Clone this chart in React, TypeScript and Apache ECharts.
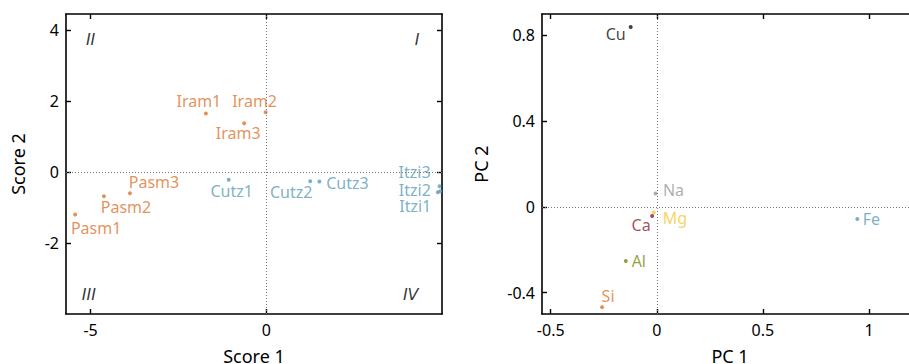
import React, { useEffect, useRef } from "react";
import * as echarts from "echarts";

// ---- Left panel: sample scores ----
const sampleNames = ["Pasm1", "Pasm2", "Pasm3", "Iram1", "Iram2", "Iram3", "Cutz1", "Cutz2", "Cutz3", "Itzi1", "Itzi2", "Itzi3"];
const score1 = [-5.44, -4.62, -3.88, -1.72, -0.02, -0.63, -1.07, 1.25, 1.51, 4.95, 4.88, 4.93];
const score2 = [-1.2, -0.685, -0.6, 1.65, 1.68, 1.37, -0.22, -0.26, -0.27, -0.545, -0.57, -0.4];
const sampleGroup = ["orange", "orange", "orange", "orange", "orange", "orange", "teal", "teal", "teal", "teal", "teal", "teal"];

const quadrantNames = ["II", "I", "III", "IV"];
const quadrantX = [-5.0, 4.29, -5.05, 4.11];
const quadrantY = [3.74, 3.74, -3.45, -3.45];

const leftXTicks = [-5, 0];
const leftYTicks = [-2, 0, 2, 4];

// ---- Right panel: loadings ----
const elementNames = ["Cu", "Na", "Mg", "Ca", "Al", "Si", "Fe"];
const pc1 = [-0.123, -0.006, -0.014, -0.022, -0.146, -0.258, 0.945];
const pc2 = [0.839, 0.062, -0.026, -0.043, -0.253, -0.468, -0.057];

const rightXTicks = [-0.5, 0, 0.5, 1];
const rightYTicks = [-0.4, 0, 0.4, 0.8];

// ---- styles ----
const FONT = "Noto Sans";
const groupColors: Record<string, string> = { orange: "#dc7630", teal: "#5a9db5" };
const elementColors: Record<string, string> = {
  Cu: "#111111",
  Na: "#999999",
  Mg: "#f5c83a",
  Ca: "#8b1f38",
  Al: "#7a8a10",
  Si: "#dc7630",
  Fe: "#5a9db5",
};
const sampleLabelOffset: Record<string, number[]> = {
  Pasm1: [21, 13],
  Pasm2: [22, 11],
  Pasm3: [24, -11],
  Iram1: [-7, -12],
  Iram2: [-11, -11],
  Iram3: [-6, 10],
  Cutz1: [3, 11],
  Cutz2: [-19, 11],
  Cutz3: [28, 1],
  Itzi3: [-25, -14],
  Itzi2: [-23, -2],
  Itzi1: [-25, 15],
};
const elementLabelOffset: Record<string, number[]> = {
  Cu: [-15, 7],
  Na: [18, -4],
  Mg: [21, 6],
  Ca: [-11, 9],
  Al: [13, 0],
  Si: [6, -11],
  Fe: [14, 0],
};

const axisLineStyle = { color: "#000", width: 1.6 };
const tickStyle = { color: "#000", width: 1.4 };

function makeAxes(
  gridIndex: number,
  xr: number[],
  yr: number[],
  xt: number[],
  yt: number[],
  xName: string,
  yName: string,
  yNameGap: number
) {
  const base = {
    gridIndex,
    type: "value",
    splitLine: { show: false },
    axisLine: { show: true, onZero: false, lineStyle: axisLineStyle },
  };
  const xAxes = [
    {
      ...base,
      position: "bottom",
      min: xr[0],
      max: xr[1],
      axisTick: { show: true, inside: true, length: 5, lineStyle: tickStyle, customValues: xt },
      axisLabel: { show: true, customValues: xt, margin: 8, color: "#000", fontSize: 16, fontFamily: FONT },
      name: xName,
      nameLocation: "middle",
      nameGap: 33,
      nameTextStyle: { color: "#000", fontSize: 18, fontFamily: FONT },
    },
    {
      ...base,
      position: "top",
      min: xr[0],
      max: xr[1],
      axisTick: { show: true, inside: true, length: 5, lineStyle: tickStyle, customValues: xt },
      axisLabel: { show: false },
    },
  ];
  const yAxes = [
    {
      ...base,
      position: "left",
      min: yr[0],
      max: yr[1],
      axisTick: { show: true, inside: true, length: 5, lineStyle: tickStyle, customValues: yt },
      axisLabel: { show: true, customValues: yt, margin: 7, color: "#000", fontSize: 16, fontFamily: FONT },
      name: yName,
      nameLocation: "middle",
      nameGap: yNameGap,
      nameTextStyle: { color: "#000", fontSize: 18, fontFamily: FONT },
    },
    {
      ...base,
      position: "right",
      min: yr[0],
      max: yr[1],
      axisTick: { show: true, inside: true, length: 5, lineStyle: tickStyle, customValues: yt },
      axisLabel: { show: false },
    },
  ];
  return { xAxes, yAxes };
}

const refLines = {
  silent: true,
  symbol: ["none", "none"],
  label: { show: false },
  lineStyle: { color: "#777", width: 1, type: [1, 2] },
  data: [{ xAxis: 0 }, { yAxis: 0 }],
};

export default function App() {
  const ref = useRef<HTMLDivElement>(null);
  useEffect(() => {
    if (!ref.current) return;
    const chart = echarts.init(ref.current, undefined, { renderer: "svg" });
    const left = makeAxes(0, [-5.7, 5.0], [-4, 4.45], leftXTicks, leftYTicks, "Score 1", "Score 2", 39);
    const right = makeAxes(1, [-0.541, 1.231], [-0.5, 0.9], rightXTicks, rightYTicks, "PC 1", "PC 2", 52);

    const sampleData = sampleNames.map((n, i) => {
      const c = groupColors[sampleGroup[i]];
      return {
        name: n,
        value: [score1[i], score2[i]],
        itemStyle: { color: c },
        label: { color: c, offset: sampleLabelOffset[n] },
      };
    });
    const quadData = quadrantNames.map((n, i) => ({ name: n, value: [quadrantX[i], quadrantY[i]] }));
    const elementData = elementNames.map((n, i) => {
      const c = elementColors[n];
      return {
        name: n,
        value: [pc1[i], pc2[i]],
        itemStyle: { color: c },
        label: { color: c, offset: elementLabelOffset[n] },
      };
    });

    const pointLabel = {
      show: true,
      position: "inside",
      align: "center",
      verticalAlign: "middle",
      formatter: "{b}",
      fontSize: 16,
      lineHeight: 15,
      fontFamily: FONT,
    };

    chart.setOption({
      animation: false,
      textStyle: { fontFamily: FONT },
      grid: [
        { left: 66, top: 14, width: 376, height: 300, outerBoundsMode: "none", containLabel: false },
        { left: 542, top: 14, width: 376, height: 300, outerBoundsMode: "none", containLabel: false },
      ],
      xAxis: [...left.xAxes, ...right.xAxes],
      yAxis: [...left.yAxes, ...right.yAxes],
      series: [
        {
          type: "scatter",
          xAxisIndex: 0,
          yAxisIndex: 0,
          symbolSize: 4,
          data: sampleData,
          label: pointLabel,
          markLine: refLines,
          z: 3,
        },
        {
          type: "scatter",
          xAxisIndex: 0,
          yAxisIndex: 0,
          symbolSize: 0,
          data: quadData,
          label: { ...pointLabel, color: "#000", fontStyle: "italic", fontFamily: "DejaVu Sans" },
          silent: true,
        },
        {
          type: "scatter",
          xAxisIndex: 2,
          yAxisIndex: 2,
          symbolSize: 4,
          data: elementData,
          label: pointLabel,
          markLine: refLines,
          z: 3,
        },
      ],
    });
    return () => chart.dispose();
  }, []);
  return (
    <div
      ref={ref}
      style={{ position: "fixed", left: 0, top: 0, width: 909, height: 364, background: "#fff" }}
    />
  );
}
